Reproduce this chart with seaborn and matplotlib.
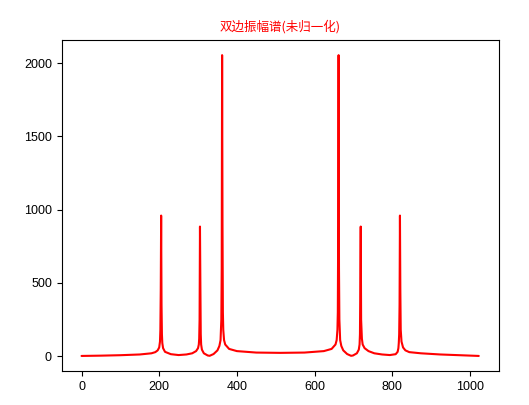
import matplotlib
matplotlib.use("Agg")
import matplotlib.pyplot as plt
import seaborn as sns
import pandas as pd

# Frequency bin index (left half of the two-sided spectrum)
bins_left = [0, 50, 100, 150, 180, 190, 196, 200, 202, 203, 204, 205, 206, 207, 208,
             210, 215, 230, 250, 270, 285, 295, 300, 302, 303, 304, 305, 306, 307,
             308, 310, 315, 325, 330, 340, 350, 355, 358, 360, 361, 362, 363, 364,
             365, 367, 370, 380, 400, 450, 512]
amp_left = [2, 4, 7, 12, 20, 28, 40, 60, 100, 180, 450, 960, 350, 150, 90,
            55, 30, 14, 8, 12, 20, 35, 55, 80, 120, 250, 885, 500, 150,
            80, 45, 20, 5, 3, 15, 40, 70, 110, 250, 600, 2055, 900, 300,
            180, 110, 80, 50, 35, 25, 23]

# Right half (mirror image of the spectrum)
bins_right = [574, 624, 644, 654, 657, 659, 660, 661, 662, 663, 664, 666, 669, 674,
              684, 694, 699, 709, 714, 716, 717, 718, 719, 720, 722, 724, 729, 739,
              754, 774, 794, 809, 814, 816, 817, 818, 819, 820, 821, 822, 824, 828,
              834, 844, 874, 924, 974, 1023]
amp_right = [25, 35, 50, 80, 110, 180, 300, 900, 2055, 600, 250, 110, 70, 40,
             15, 3, 5, 20, 45, 80, 150, 500, 885, 250, 120, 80, 55, 35,
             20, 12, 8, 14, 30, 55, 90, 150, 350, 960, 450, 180, 100, 60,
             40, 28, 20, 12, 7, 2]

df = pd.DataFrame({"bin": bins_left + bins_right, "amp": amp_left + amp_right})

sns.set_style("ticks")
plt.rcParams['font.family'] = ['Liberation Sans', 'Noto Sans CJK SC', 'DejaVu Sans']
plt.rcParams['axes.unicode_minus'] = False

fig = plt.figure(figsize=(5.29, 4.05), dpi=100)
ax = fig.add_axes([0.1166, 0.084, 0.826, 0.817])
sns.lineplot(data=df, x="bin", y="amp", color="red", linewidth=1.5, ax=ax,
             estimator=None, sort=True)
ax.set_xlabel("")
ax.set_ylabel("")
ax.set_xticks([0, 200, 400, 600, 800, 1000])
ax.set_yticks([0, 500, 1000, 1500, 2000])
ax.tick_params(labelsize=9, colors="black", length=3.5, width=0.8)
for s in ax.spines.values():
    s.set_color("black")
    s.set_linewidth(0.8)
ax.set_title("双边振幅谱(未归一化)", fontsize=9, color="red",
             family=['Noto Sans CJK SC', 'DejaVu Sans'], pad=7)
fig.savefig("out.png", dpi=100)
